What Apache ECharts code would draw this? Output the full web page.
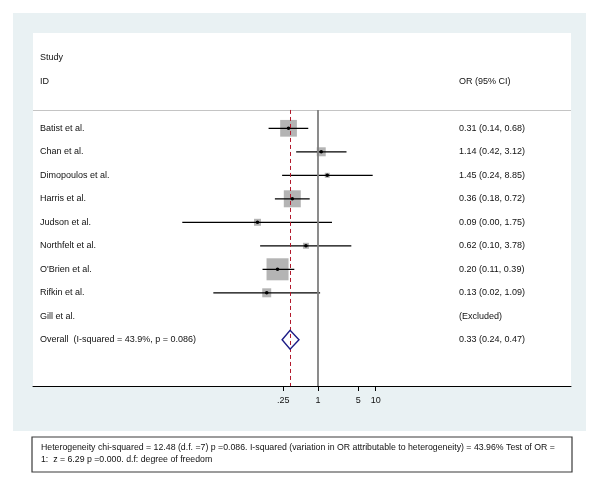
<!DOCTYPE html>
<html>
<head>
<meta charset="utf-8">
<script src="https://cdn.jsdelivr.net/npm/echarts@6/dist/echarts.min.js"></script>
<style>
  html, body { margin: 0; padding: 0; background: #fff; }
  #main { width: 600px; height: 490px; }
</style>
</head>
<body>
<div id="main"></div>
<script>
// study rows
var studyNames = ['Batist et al.', 'Chan et al.', 'Dimopoulos et al.', 'Harris et al.', 'Judson et al.', 'Northfelt et al.', "O'Brien et al.", 'Rifkin et al.', 'Gill et al.'];
var orValues = [0.31, 1.14, 1.45, 0.36, 0.09, 0.62, 0.20, 0.13, null];
var ciLower = [0.14, 0.42, 0.24, 0.18, 0.0045, 0.10, 0.11, 0.0155, null];
var ciUpper = [0.68, 3.12, 8.85, 0.72, 1.75, 3.78, 0.39, 1.09, null];
var weights = [21.1, 6.1, 1.9, 21.8, 3.7, 2.7, 36.6, 6.1, 0];
var ciText = ['0.31 (0.14, 0.68)', '1.14 (0.42, 3.12)', '1.45 (0.24, 8.85)', '0.36 (0.18, 0.72)', '0.09 (0.00, 1.75)', '0.62 (0.10, 3.78)', '0.20 (0.11, 0.39)', '0.13 (0.02, 1.09)', '(Excluded)'];

// pooled estimate
var overallLabel = 'Overall  (I-squared = 43.9%, p = 0.086)';
var overallOR = 0.33;
var overallLo = 0.24;
var overallHi = 0.47;
var overallText = '0.33 (0.24, 0.47)';

// axis ticks
var tickValues = [0.25, 1, 5, 10];
var tickLabels = ['.25', '1', '5', '10'];

var footnote = [
    'Heterogeneity chi-squared = 12.48 (d.f. =7) p =0.086. I-squared (variation in OR attributable to heterogeneity) = 43.96% Test of OR =',
    '1:  z = 6.29 p =0.000. d.f: degree of freedom'
];

var FONT = "'Liberation Sans', Arial, Helvetica, sans-serif";
var X_MIN = -11.35, X_MAX = 10.08;   // ln(OR) range over the plot width
var Y_MIN = -4.055, Y_MAX = 10.966;  // row units (row 0 = first study)
var SEP_ROW = -0.78;
var overallRow = studyNames.length;

var myChart = echarts.init(document.getElementById('main'));

function txt(str, x, y, size) {
    return {
        type: 'text',
        style: { text: str, x: x, y: y, verticalAlign: 'middle', font: size + 'px ' + FONT, fill: '#111' }
    };
}

function renderStudy(params, api) {
    var i = params.dataIndex;
    var y = api.coord([0, i])[1];
    var children = [
        txt(studyNames[i], 40, y, 9),
        txt(ciText[i], 459, y, 9)
    ];
    if (orValues[i] != null) {
        var c = api.coord([Math.log(orValues[i]), i])[0];
        var lo = api.coord([Math.log(ciLower[i]), i])[0];
        var hi = api.coord([Math.log(ciUpper[i]), i])[0];
        var s = 3.64 * Math.sqrt(weights[i]);
        children.push({
            type: 'rect',
            shape: { x: c - s / 2, y: y - s / 2, width: s, height: s },
            style: { fill: '#b4b4b4' }
        });
        children.push({
            type: 'line',
            shape: { x1: lo, y1: y, x2: hi, y2: y },
            style: { stroke: '#000', lineWidth: 1.3 }
        });
        children.push({
            type: 'circle',
            shape: { cx: c, cy: y, r: 1.8 },
            style: { fill: '#000' }
        });
    }
    return { type: 'group', children: children };
}

function renderOverall(params, api) {
    var y = api.coord([0, overallRow])[1];
    var c = api.coord([Math.log(overallOR), overallRow])[0];
    var lo = api.coord([Math.log(overallLo), overallRow])[0];
    var hi = api.coord([Math.log(overallHi), overallRow])[0];
    return {
        type: 'group',
        children: [
            txt(overallLabel, 40, y, 9),
            txt(overallText, 459, y, 9),
            {
                type: 'polygon',
                shape: { points: [[lo, y], [c, y - 9.5], [hi, y], [c, y + 9.5]] },
                style: { fill: 'none', stroke: '#1c1c86', lineWidth: 1.4 }
            }
        ]
    };
}

var option = {
    animation: false,
    graphic: [
        { type: 'rect', shape: { x: 13, y: 13, width: 573, height: 418 }, style: { fill: '#e9f1f3' }, z: -10 },
        { type: 'rect', shape: { x: 33, y: 33, width: 538, height: 353 }, style: { fill: '#fff' }, z: -9 },
        Object.assign(txt('Study', 40, 58, 9), { z: 1 }),
        Object.assign(txt('ID', 40, 82, 9), { z: 1 }),
        Object.assign(txt('OR (95% CI)', 459, 82, 9), { z: 1 }),
        { type: 'rect', shape: { x: 32, y: 437, width: 540, height: 35 }, style: { fill: '#fff', stroke: '#3a3a3a', lineWidth: 1.2 }, z: 1 },
        Object.assign(txt(footnote[0], 41, 447.5, 8.75), { z: 2 }),
        Object.assign(txt(footnote[1], 41, 459.5, 8.75), { z: 2 })
    ],
    grid: { left: 33, right: 29, top: 33, bottom: 104, show: false },
    xAxis: {
        type: 'value',
        min: X_MIN,
        max: X_MAX,
        splitLine: { show: false },
        axisLine: { show: true, onZero: false, lineStyle: { color: '#000', width: 1 } },
        axisTick: {
            show: true,
            length: 5,
            customValues: tickValues.map(Math.log),
            lineStyle: { color: '#000' }
        },
        axisLabel: {
            show: true,
            margin: 10,
            customValues: tickValues.map(Math.log),
            fontFamily: FONT,
            fontSize: 9,
            color: '#111',
            formatter: function (v) {
                var best = 0;
                for (var k = 0; k < tickValues.length; k++) {
                    if (Math.abs(Math.log(tickValues[k]) - v) < Math.abs(Math.log(tickValues[best]) - v)) best = k;
                }
                return tickLabels[best];
            }
        }
    },
    yAxis: {
        type: 'value',
        inverse: true,
        min: Y_MIN,
        max: Y_MAX,
        show: false
    },
    series: [
        {
            name: 'studies',
            type: 'custom',
            renderItem: renderStudy,
            data: studyNames.map(function (n, i) { return [0, i]; }),
            markLine: {
                silent: true,
                symbol: 'none',
                label: { show: false },
                data: [
                    [{ coord: [X_MIN, SEP_ROW], lineStyle: { color: '#c4c4c4', width: 1, type: 'solid' } }, { coord: [X_MAX, SEP_ROW] }],
                    [{ coord: [0, SEP_ROW], lineStyle: { color: '#7f7f7f', width: 1.8, type: 'solid' } }, { coord: [0, Y_MAX] }],
                    [{ coord: [Math.log(overallOR), SEP_ROW], lineStyle: { color: '#b2182b', width: 1, type: [4, 3] } }, { coord: [Math.log(overallOR), Y_MAX] }]
                ]
            }
        },
        {
            name: 'overall',
            type: 'custom',
            renderItem: renderOverall,
            data: [[Math.log(overallOR), overallRow]],
            z: 6
        }
    ]
};

myChart.setOption(option);
window.onresize = function () {
    myChart.resize();
};
</script>
</body>
</html>
